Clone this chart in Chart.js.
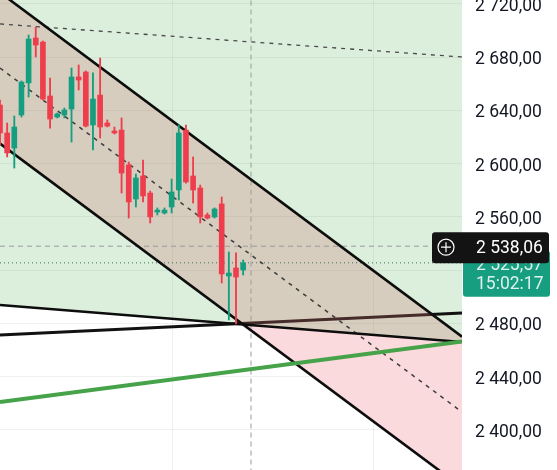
<!DOCTYPE html>
<html>
<head>
<meta charset="utf-8">
<script src="https://cdn.jsdelivr.net/npm/chart.js@4.4.1/dist/chart.umd.min.js"></script>
<style>
  html, body { margin: 0; padding: 0; background: #fff; }
  #wrap { width: 557px; height: 470px; position: relative; }
</style>
</head>
<body>
<div id="wrap"><canvas id="grafica"></canvas></div>
<script>
// velas (índice = posición de la vela)
const opens  = [2644.1, 2623.1, 2611.8, 2636.6, 2660.7, 2694.5, 2691.4, 2650.9, 2635.1, 2636.6, 2641.1, 2665.2, 2668.9, 2629.1, 2651.6, 2630.6, 2624.6, 2625.3, 2599.1, 2573.5, 2590.8, 2578.0, 2563.7, 2563.0, 2567.5, 2580.3, 2625.3, 2590.8, 2581.8, 2561.5, 2560.0, 2569.8, 2515.7, 2521.7, 2520.2];
const highs  = [2647.9, 2630.6, 2635.9, 2662.2, 2696.7, 2702.7, 2692.2, 2664.4, 2638.1, 2641.9, 2671.9, 2674.2, 2669.7, 2668.2, 2679.4, 2632.9, 2627.6, 2634.4, 2601.3, 2592.3, 2602.8, 2579.5, 2566.8, 2566.8, 2588.5, 2629.1, 2629.1, 2605.1, 2584.0, 2563.0, 2566.8, 2575.0, 2533.7, 2533.0, 2527.7];
const lows   = [2614.1, 2605.1, 2596.8, 2635.1, 2650.1, 2680.2, 2647.9, 2626.8, 2634.4, 2634.4, 2616.3, 2655.4, 2627.6, 2610.3, 2619.3, 2627.6, 2622.3, 2578.0, 2559.2, 2567.5, 2571.3, 2555.5, 2561.5, 2562.2, 2563.0, 2572.8, 2585.5, 2570.5, 2555.5, 2558.5, 2559.2, 2510.4, 2482.6, 2479.6, 2516.4];
const closes = [2623.1, 2608.1, 2627.6, 2661.4, 2693.7, 2689.2, 2648.6, 2633.6, 2637.4, 2640.4, 2665.2, 2662.9, 2628.3, 2648.6, 2627.6, 2628.3, 2623.1, 2593.0, 2571.3, 2589.3, 2575.8, 2560.0, 2565.2, 2565.2, 2578.8, 2623.1, 2586.3, 2580.3, 2560.0, 2559.2, 2566.0, 2517.2, 2517.9, 2514.9, 2525.57];

// líneas dibujadas (inicio y fin en x = lineX)
const lineX      = [0, 64.6];
const channelTop = [2728.6, 2470.1];
const channelBot = [2615.2, 2356.9];
const channelMid = [2671.9, 2413.5];
const topDashed  = [2705.0, 2680.2];
const supportUp  = [2471.4, 2487.9];
const supportDn  = [2493.9, 2466.1];
const greenTrend = [2421.0, 2466.5];

// eje de precios
const priceTicks = [2400, 2440, 2480, 2520, 2560, 2600, 2640, 2680, 2720];
const priceMin = 2369.95, priceMax = 2723.0;
const timeGrid = [24.06, 52.2];

// cursor y precio actual
const crossX = 35.1;
const crossPrice = 2538.06;
const countdown = '15:02:17';

const UP = '#169e80', DOWN = '#ee3e4d';

function fmt(v) {
  const s = v.toFixed(2).replace('.', ',');
  const [ent, dec] = s.split(',');
  return ent.replace(/\B(?=(\d{3})+(?!\d))/g, ' ') + ',' + dec;
}
function seg(vals) { return lineX.map((x, i) => ({ x: x, y: vals[i] })); }
function hline(v) { return lineX.map(x => ({ x: x, y: v })); }

const idx = closes.map((_, i) => i);
const colors = idx.map(i => closes[i] >= opens[i] ? UP : DOWN);
const lastClose = closes[closes.length - 1];

const labelsPlugin = {
  id: 'etiquetas',
  afterDraw(chart) {
    const ctx = chart.ctx;
    const y = chart.scales.y;
    const left = chart.chartArea.right;
    const yLast = y.getPixelForValue(lastClose);
    const yCross = y.getPixelForValue(crossPrice);
    ctx.save();
    // etiqueta del último precio
    ctx.fillStyle = '#179d80';
    ctx.beginPath();
    ctx.roundRect(left + 1, yLast - 12, 87, 46, 3);
    ctx.fill();
    ctx.font = '17.5px Roboto';
    ctx.textBaseline = 'middle';
    ctx.fillStyle = 'rgba(255,255,255,0.85)';
    ctx.fillText(fmt(lastClose), left + 14, yLast + 3);
    ctx.fillText(countdown, left + 14, yLast + 22);
    // etiqueta del cursor
    ctx.fillStyle = '#131313';
    ctx.beginPath();
    ctx.roundRect(left - 30, yCross - 14, 117, 31, 3);
    ctx.fill();
    ctx.strokeStyle = '#fff';
    ctx.lineWidth = 1.2;
    ctx.beginPath();
    ctx.arc(left - 16, yCross + 1, 8, 0, Math.PI * 2);
    ctx.moveTo(left - 21, yCross + 1); ctx.lineTo(left - 11, yCross + 1);
    ctx.moveTo(left - 16, yCross - 4); ctx.lineTo(left - 16, yCross + 6);
    ctx.stroke();
    ctx.fillStyle = '#fff';
    ctx.fillText(fmt(crossPrice), left + 14, yCross + 2);
    ctx.restore();
  }
};

const lineBase = { type: 'line', pointRadius: 0, tension: 0, fill: false };

document.addEventListener('DOMContentLoaded', function () {
  const canvas = document.getElementById('grafica');
  if (!canvas || typeof Chart === 'undefined') {
    console.warn('Chart.js no está cargado');
    return;
  }
  new Chart(canvas.getContext('2d'), {
    type: 'bar',
    data: {
      datasets: [
        // 0: fondo verde sobre la línea descendente
        Object.assign({}, lineBase, { data: seg(supportDn), borderWidth: 0, fill: 'end', backgroundColor: 'rgba(76,175,80,0.2)', order: 20 }),
        // 1: soporte ascendente
        Object.assign({}, lineBase, { data: seg(supportUp), borderColor: '#111', borderWidth: 3, order: 19 }),
        // 2: relleno del canal
        Object.assign({}, lineBase, { data: seg(channelTop), borderWidth: 0, fill: 3, backgroundColor: 'rgba(205,115,112,0.28)', order: 18 }),
        // 3: relleno rosa bajo la línea descendente
        Object.assign({}, lineBase, { data: seg(channelBot), borderWidth: 0, fill: { target: 0, above: 'rgba(0,0,0,0)', below: 'rgb(251,218,222)' }, order: 17 }),
        // cuadrícula del cursor y precio actual
        Object.assign({}, lineBase, { data: hline(crossPrice), borderColor: '#9a9a9a', borderWidth: 1, borderDash: [5, 4], order: 12 }),
        Object.assign({}, lineBase, { data: [{ x: crossX, y: priceMin - 50 }, { x: crossX, y: priceMax + 50 }], borderColor: '#9a9a9a', borderWidth: 1, borderDash: [5, 4], order: 12 }),
        Object.assign({}, lineBase, { data: hline(lastClose), borderColor: '#3f6f62', borderWidth: 1, borderDash: [1, 3], order: 12 }),
        // líneas discontinuas
        Object.assign({}, lineBase, { data: seg(channelMid), borderColor: '#3d3d3d', borderWidth: 1.5, borderDash: [4, 5], order: 10 }),
        Object.assign({}, lineBase, { data: seg(topDashed), borderColor: '#4a4a4a', borderWidth: 1.3, borderDash: [4, 5], order: 10 }),
        // líneas del canal y tendencias
        Object.assign({}, lineBase, { data: seg(channelTop), borderColor: '#0d0d0d', borderWidth: 2.6, order: 6 }),
        Object.assign({}, lineBase, { data: seg(channelBot), borderColor: '#0d0d0d', borderWidth: 2.6, order: 6 }),
        Object.assign({}, lineBase, { data: seg(supportDn), borderColor: '#0d0d0d', borderWidth: 2.6, order: 6 }),
        Object.assign({}, lineBase, { data: seg(greenTrend), borderColor: '#46a34a', borderWidth: 4, order: 5 }),
        // mechas
        { type: 'bar', data: idx.map(i => ({ x: i, y: [lows[i], highs[i]] })), backgroundColor: colors, barThickness: 1.2, grouped: false, order: 3 },
        // cuerpos
        { type: 'bar', data: idx.map(i => ({ x: i, y: [opens[i], closes[i]] })), backgroundColor: colors, barThickness: 5, minBarLength: 1.5, grouped: false, order: 2 }
      ]
    },
    options: {
      responsive: true,
      maintainAspectRatio: false,
      animation: false,
      layout: { padding: 0 },
      plugins: { legend: { display: false }, tooltip: { enabled: false } },
      scales: {
        x: {
          type: 'linear', min: lineX[0], max: lineX[1], offset: false,
          border: { display: false },
          grid: { color: 'rgba(0,0,0,0.06)', drawTicks: false, offset: false },
          ticks: { display: false },
          afterBuildTicks(scale) { scale.ticks = timeGrid.map(v => ({ value: v })); },
          afterFit(scale) { scale.height = 0; }
        },
        y: {
          position: 'right', min: priceMin, max: priceMax,
          border: { display: false },
          grid: { color: 'rgba(0,0,0,0.06)', drawTicks: false },
          ticks: { padding: 13, labelOffset: 2.5, color: '#131722', font: { family: 'Roboto', size: 17.5 }, callback: v => fmt(v) },
          afterBuildTicks(scale) { scale.ticks = priceTicks.map(v => ({ value: v })); },
          afterFit(scale) { scale.width = 95; scale.paddingTop = 0; scale.paddingBottom = 0; }
        }
      }
    },
    plugins: [labelsPlugin]
  });
});
</script>
</body>
</html>
